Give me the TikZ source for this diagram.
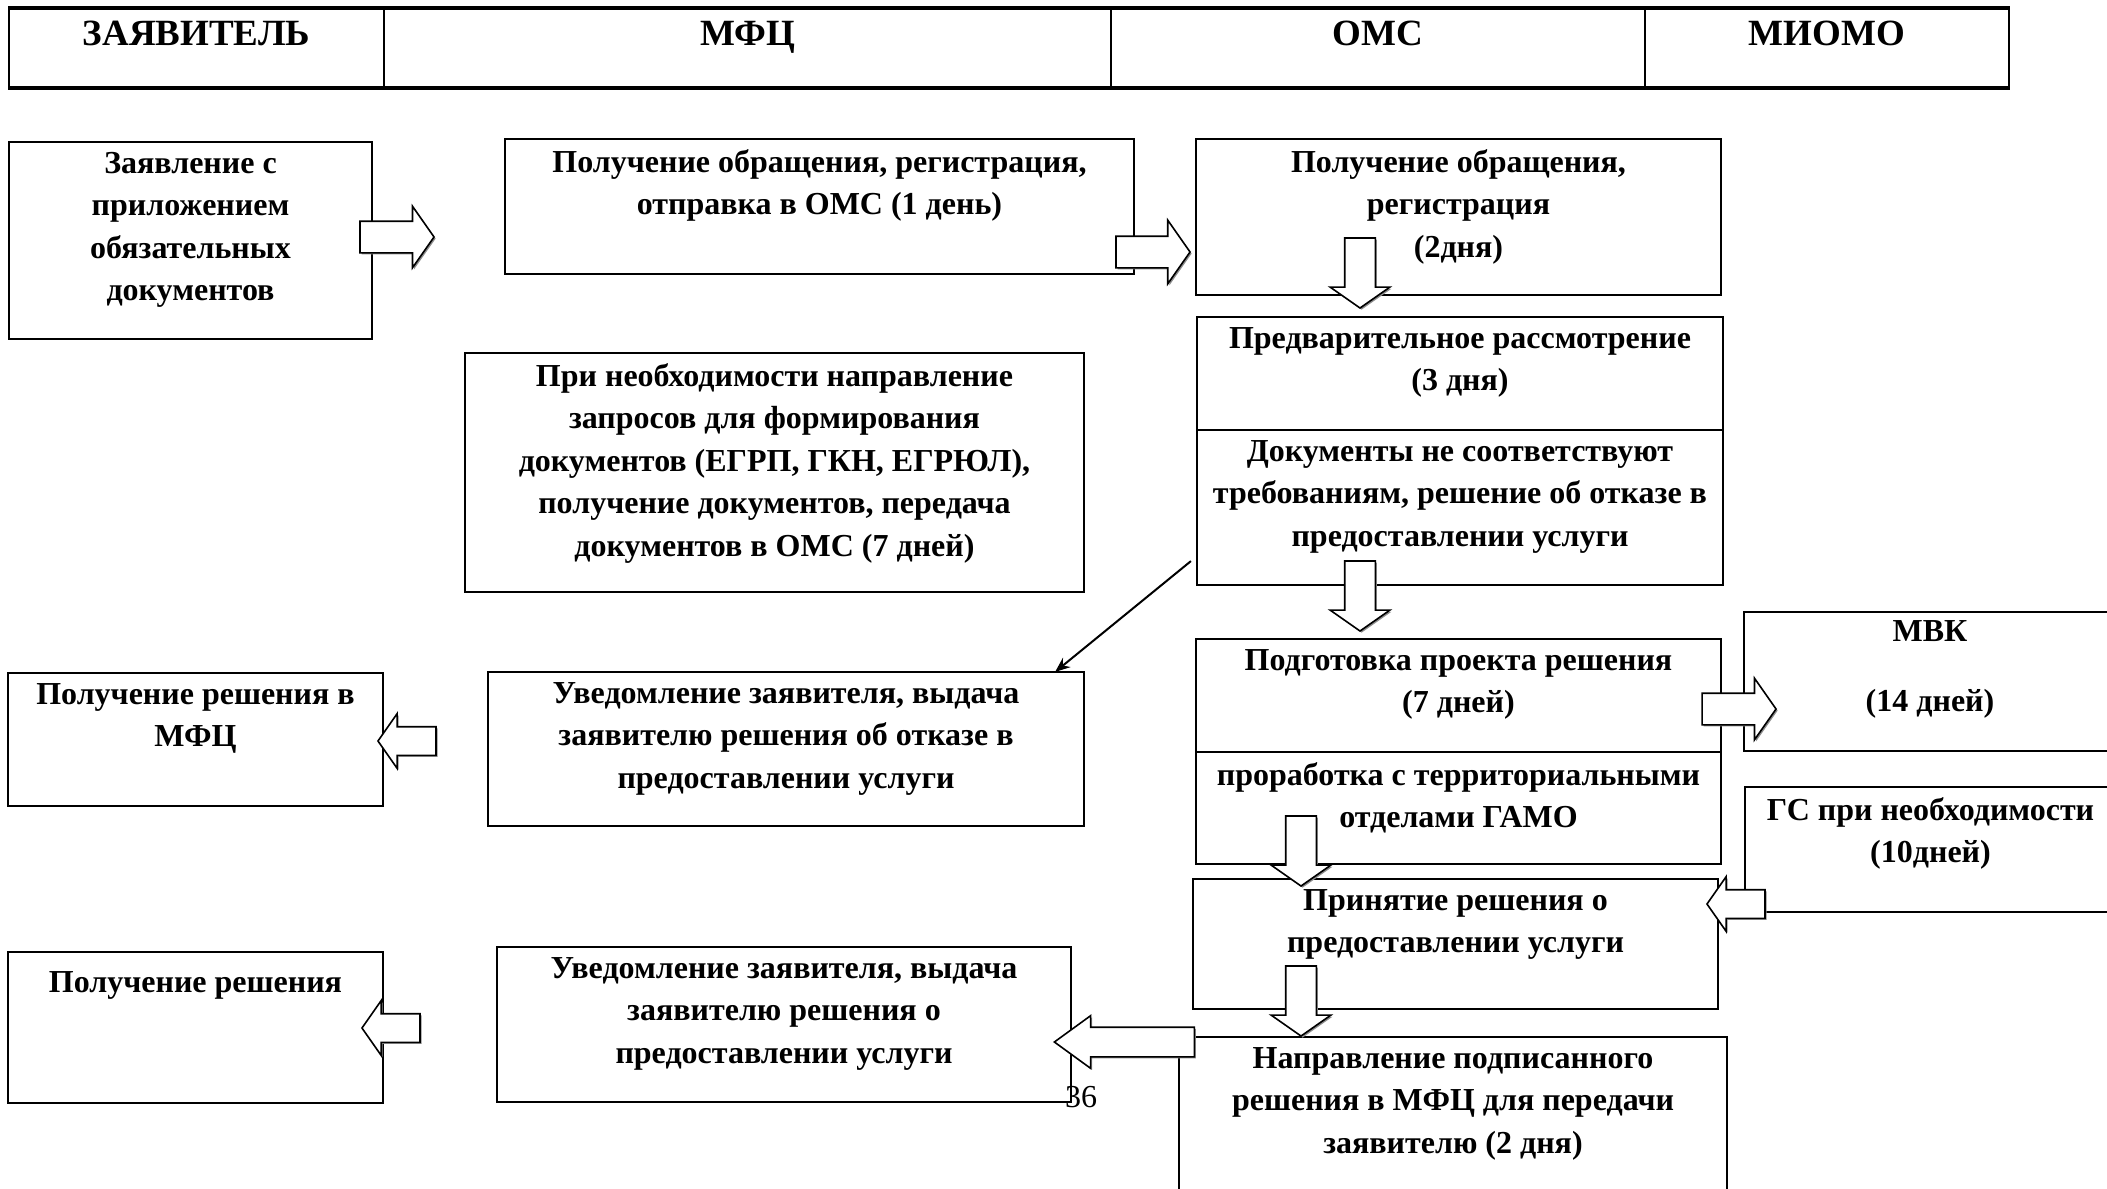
\documentclass[tikz,border=0pt]{standalone}
\usepackage{fontspec}
\setmainfont{Liberation Serif}
\usetikzlibrary{shapes.arrows, arrows, arrows.meta, positioning, fit, calc, shadows}
\tikzstyle{cell} = [rectangle, draw=black, line width=0.7pt, inner sep=0pt]
\tikzstyle{box} = [rectangle, draw=black, line width=1.1pt, inner sep=0pt]
\tikzstyle{head} = [anchor=north, inner sep=0pt, font=\bfseries\fontsize{18.5}{22}\selectfont, execute at begin node=\strut]
\tikzstyle{txt} = [align=center, anchor=north, inner sep=0pt, font=\bfseries\fontsize{16}{21.25}\selectfont, execute at begin node=\strut]
\tikzstyle{barrow} = [single arrow, draw=black, line width=0.8pt, fill=white, inner xsep=0pt, anchor=tip, single arrow tip angle=110, drop shadow={shadow xshift=0.8pt, shadow yshift=-0.8pt, fill=black!45, opacity=1}]
\tikzstyle{arrow} = [line width=1pt,-{Stealth[length=7.5pt,width=6pt]}]

\begin{document}
\begin{tikzpicture}[x=0.5pt, y=-0.5pt]
\useasboundingbox (0,0) rectangle (2107,1188);

% Header
\node (h1) [cell, fit={(9,9) (384,87)}] {};
\node (h2) [cell, fit={(384,9) (1111,87)}] {};
\node (h3) [cell, fit={(1111,9) (1645,87)}] {};
\node (h4) [cell, fit={(1645,9) (2009,87)}] {};
\draw [line width=2pt] (h1.north west) -- (h4.north east);
\draw [line width=2pt] (h1.south west) -- (h4.south east);
\node (h1t) [head, below=3pt of h1.north] {ЗАЯВИТЕЛЬ};
\node (h2t) [head, below=3pt of h2.north] {МФЦ};
\node (h3t) [head, below=3pt of h3.north] {ОМС};
\node (h4t) [head, below=3pt of h4.north] {МИОМО};

% Applicant
\node (zayav) [box, fit={(9,142) (372,339)}] {};
\node (zayavt) [txt, below=5.5pt of zayav.north] {Заявление с\\приложением\\обязательных\\документов};
\node (getmfc) [box, fit={(8,673) (383,806)}] {};
\node (getmfct) [txt, below=5.5pt of getmfc.north] {Получение решения в\\МФЦ};
\node (getdec) [box, fit={(8,952) (383,1103)}] {};
\node (getdect) [txt, below=5.5pt of getdec.north] {Получение решения};

% MFC
\node (mfcreg) [box, fit={(505,139) (1134,274)}] {};
\node (mfcregt) [txt, below=5.5pt of mfcreg.north] {Получение обращения, регистрация,\\отправка в ОМС (1 день)};
\node (query) [box, fit={(465,353) (1084,592)}] {};
\node (queryt) [txt, below=5.5pt of query.north] {При необходимости направление\\запросов для формирования\\документов (ЕГРП, ГКН, ЕГРЮЛ),\\получение документов, передача\\документов в ОМС (7 дней)};
\node (refnote) [box, fit={(488,672) (1084,826)}] {};
\node (refnotet) [txt, below=5.5pt of refnote.north] {Уведомление заявителя, выдача\\заявителю решения об отказе в\\предоставлении услуги};
\node (notice) [box, fit={(497,947) (1071,1102)}] {};
\node (noticet) [txt, below=5.5pt of notice.north] {Уведомление заявителя, выдача\\заявителю решения о\\предоставлении услуги};

% OMS
\node (omsreg) [box, fit={(1196,139) (1721,295)}] {};
\node (omsregt) [txt, below=5.5pt of omsreg.north] {Получение обращения,\\регистрация\\(2дня)};
\node (prelim) [box, fit={(1197,317) (1723,430)}] {};
\node (prelimt) [txt, below=5.5pt of prelim.north] {Предварительное рассмотрение\\(3 дня)};
\node (reject) [box, fit={(1197,430) (1723,585)}] {};
\node (rejectt) [txt, below=5.5pt of reject.north] {Документы не соответствуют\\требованиям, решение об отказе в\\предоставлении услуги};
\node (draft) [box, fit={(1196,639) (1721,752)}] {};
\node (draftt) [txt, below=5.5pt of draft.north] {Подготовка проекта решения\\(7 дней)};
\node (terr) [box, fit={(1196,752) (1721,864)}] {};
\node (terrt) [txt, below=5.5pt of terr.north] {проработка с территориальными\\отделами ГАМО};
\node (accept) [box, fit={(1193,879) (1718,1009)}] {};
\node (acceptt) [txt, below=5.5pt of accept.north] {Принятие решения о\\предоставлении услуги};
\node (sendmfc) [box, fit={(1179,1037) (1727,1220)}] {};
\node (sendmfct) [txt, below=5.5pt of sendmfc.north] {Направление подписанного\\решения в МФЦ для передачи\\заявителю (2 дня)};

% MIOMO
\node (mvk) [box, fit={(1744,612) (2116,751)}] {};
\node (mvkt) [txt, below=4.5pt of mvk.north] {МВК\\[13.75pt](14 дней)};
\node (gs) [box, fit={(1745,787) (2116,912)}] {};
\node (gst) [txt, below=5.5pt of gs.north] {ГС при необходимости\\(10дней)};

% Block arrows
\node (a1) [barrow, minimum height=37pt, inner ysep=7.5pt, single arrow head extend=7.5pt] at (435,237) {};
\node (a2) [barrow, minimum height=37pt, inner ysep=7.5pt, single arrow head extend=8pt] at (1191,252) {};
\node (d1) [barrow, rotate=-90, minimum height=35pt, inner ysep=7.25pt, single arrow head extend=7.25pt] at (1360,309) {};
\node (d2) [barrow, rotate=-90, minimum height=35pt, inner ysep=7.25pt, single arrow head extend=7.25pt] at (1360,632) {};
\node (r1) [barrow, minimum height=37pt, inner ysep=7.5pt, single arrow head extend=7.5pt] at (1777,709) {};
\node (d3) [barrow, rotate=-90, minimum height=35pt, inner ysep=7.25pt, single arrow head extend=7.25pt] at (1301,887) {};
\node (d4) [barrow, rotate=-90, minimum height=35pt, inner ysep=7.25pt, single arrow head extend=7.25pt] at (1301,1037) {};
\node (l1) [barrow, rotate=180, minimum height=29pt, inner ysep=6.75pt, single arrow head extend=6.5pt] at (1706,904) {};
\node (l2) [barrow, rotate=180, minimum height=70pt, inner ysep=7pt, single arrow head extend=5.75pt, single arrow tip angle=72] at (1053,1042) {};
\node (l3) [barrow, rotate=180, minimum height=29pt, inner ysep=6.75pt, single arrow head extend=6.5pt] at (377,741) {};
\node (l4) [barrow, rotate=180, minimum height=29pt, inner ysep=6.75pt, single arrow head extend=6.5pt] at (361,1028) {};

% Refusal
\draw [arrow] ($(reject.south west)+(-5,-25)$) -- ($(refnote.north east)+(-30,1)$);

\node (pagenum) [inner sep=0pt, font=\fontsize{16}{18}\selectfont] at (1081,1097) {36};

\end{tikzpicture}
\end{document}
